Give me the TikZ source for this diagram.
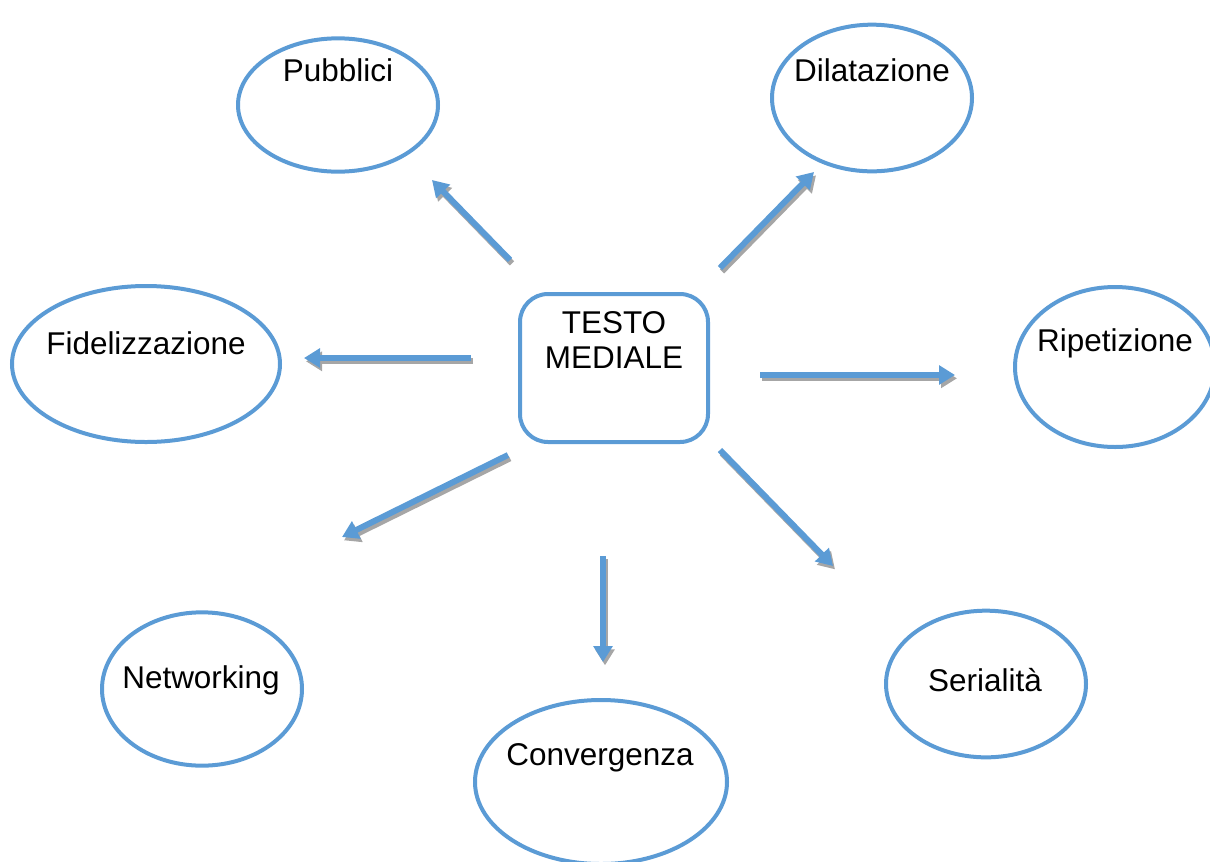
\documentclass[tikz,border=0pt]{standalone}
\usepackage{fontspec}
\setmainfont{Liberation Sans}
\usetikzlibrary{shapes.geometric, arrows.meta}
\definecolor{azzurro}{HTML}{5B9BD5}

\tikzset{
  bolla/.style={ellipse, draw=azzurro, line width=3pt, inner sep=0pt},
  scatola/.style={rectangle, rounded corners=21pt, draw=azzurro, line width=3pt,
    minimum width=141pt, minimum height=111pt},
  freccia/.style={azzurro, line width=4.5pt, -{Triangle[width=14pt,length=12pt]}},
  ombra/.style={gray!70, line width=4.5pt, -{Triangle[width=14pt,length=12pt]},
    transform canvas={shift={(1.5pt,-2.5pt)}}},
}

\begin{document}
\begin{tikzpicture}[x=0.75pt, y=-0.75pt, font=\fontsize{23.6}{26}\selectfont]
    \useasboundingbox (0,0) rectangle (1210,861);
    % nodi
    \node [scatola] (testo) at (614,368) {};
    \node [align=center] at (614,340) {TESTO\\MEDIALE};
    \node [bolla, minimum width=150pt, minimum height=100pt] (pubblici) at (338,105) {};
    \node at (338,70) {Pubblici};
    \node [bolla, minimum width=150pt, minimum height=110pt] (dilatazione) at (872,98) {};
    \node at (872,70) {Dilatazione};
    \node [bolla, minimum width=201pt, minimum height=117pt] (fidelizzazione) at (146,364) {};
    \node at (146,343) {Fidelizzazione};
    \node [bolla, minimum width=150pt, minimum height=120pt] (ripetizione) at (1115,367) {};
    \node at (1115,343) {Ripetizione};
    \node [bolla, minimum width=150pt, minimum height=115pt] (networking) at (202,689) {};
    \node at (201,680) {Networking};
    \node [bolla, minimum width=189pt, minimum height=123pt] (convergenza) at (601,782) {};
    \node at (600,758) {Convergenza};
    \node [bolla, minimum width=150pt, minimum height=110pt] (serialita) at (986,684) {};
    \node at (985,680) {Serialità};

    % estremi delle frecce
    \coordinate (p0) at (510,260);  \coordinate (p1) at (432,180);
    \coordinate (d0) at (720,268);  \coordinate (d1) at (814,172);
    \coordinate (f0) at (471,358);  \coordinate (f1) at (304,358);
    \coordinate (r0) at (760,375);  \coordinate (r1) at (955,375);
    \coordinate (n0) at (508,455);  \coordinate (n1) at (342,537);
    \coordinate (c0) at (603,556);  \coordinate (c1) at (603,662);
    \coordinate (s0) at (720,450);  \coordinate (s1) at (833,566);

    % frecce
    \foreach \a/\b in {p0/p1, d0/d1, f0/f1, r0/r1, n0/n1, c0/c1, s0/s1} {
      \draw [ombra] (\a) -- (\b);
      \draw [freccia] (\a) -- (\b);
    }
\end{tikzpicture}
\end{document}
